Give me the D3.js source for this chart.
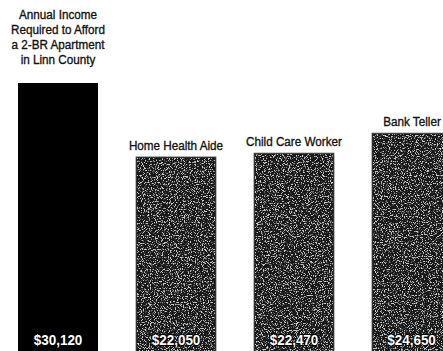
<!DOCTYPE html>
<html>
<head>
<meta charset="utf-8">
<script src="https://cdn.jsdelivr.net/npm/d3@7"></script>
<style>
  html, body { margin: 0; padding: 0; background: #fff; }
  svg { display: block; }
</style>
</head>
<body>
<svg id="chart" width="443" height="351"></svg>
<script>
// Annual income needed vs. wages of common occupations
const categories = ["Linn County 2-BR", "Home Health Aide", "Child Care Worker", "Bank Teller"];
const values = [30120, 22050, 22470, 24650];
const titleLines = ["Annual Income", "Required to Afford", "a 2-BR Apartment", "in Linn County"];
const valueLabels = ["$30,120", "$22,050", "$22,470", "$24,650"];

const W = 443, H = 351;
const svg = d3.select("#chart");
const narrow = 0.88;   // horizontal squeeze for the condensed lettering
const labelFont = "'Liberation Sans', Arial, sans-serif";

const x = d3.scaleBand()
  .domain(categories)
  .range([18, 452])
  .paddingInner(0.322)
  .paddingOuter(0);

const y = d3.scaleLinear()
  .domain([0, 30120])
  .range([359, 83]);

// Speckled grain used on the occupation bars
const defs = svg.append("defs");
const f = defs.append("filter").attr("id", "grain")
  .attr("x", 0).attr("y", 0).attr("width", 1).attr("height", 1)
  .attr("color-interpolation-filters", "sRGB");
f.append("feTurbulence")
  .attr("type", "fractalNoise").attr("baseFrequency", 0.85)
  .attr("numOctaves", 2).attr("seed", 7).attr("result", "n");
f.append("feColorMatrix").attr("in", "n").attr("type", "matrix")
  .attr("values", "0 0 0 0 0.8  0 0 0 0 0.8  0 0 0 0 0.8  8 0 0 0 -4.25")
  .attr("result", "dots");
f.append("feComposite").attr("in", "dots").attr("in2", "SourceGraphic").attr("operator", "in");

const g = svg.append("g");

// bars
g.selectAll("rect.bar")
  .data(categories)
  .join("rect")
  .attr("class", "bar")
  .attr("x", d => x(d))
  .attr("y", (d, i) => y(values[i]))
  .attr("width", x.bandwidth())
  .attr("height", (d, i) => y(0) - y(values[i]))
  .attr("fill", (d, i) => i === 0 ? "#000" : "#181818")
  .attr("stroke", (d, i) => i === 0 ? "none" : "#5a5a5a")
  .attr("stroke-width", 0.8);

// grain overlay on occupation bars
g.selectAll("rect.grain")
  .data(categories.slice(1))
  .join("rect")
  .attr("class", "grain")
  .attr("x", d => x(d) + 1)
  .attr("y", (d, i) => y(values[i + 1]) + 1)
  .attr("width", x.bandwidth() - 2)
  .attr("height", (d, i) => y(0) - y(values[i + 1]) - 1)
  .attr("fill", "#fff")
  .attr("filter", "url(#grain)");

// title block above the first bar
const cx0 = x(categories[0]) + x.bandwidth() / 2;
svg.append("g")
  .attr("transform", `translate(${cx0},0) scale(${narrow},1)`)
  .selectAll("text")
  .data(titleLines)
  .join("text")
  .attr("x", 0)
  .attr("y", (d, i) => 19.5 + i * 14.9)
  .attr("text-anchor", "middle")
  .attr("font-family", labelFont)
  .attr("font-size", 13.3)
  .attr("fill", "#111")
  .attr("stroke", "#111")
  .attr("stroke-width", 0.35)
  .text(d => d);

// occupation labels above their bars
g.selectAll("g.cat")
  .data(categories.slice(1))
  .join("g")
  .attr("class", "cat")
  .attr("transform", (d, i) =>
    `translate(${Math.min(x(d) + x.bandwidth() / 2, 412)},${y(values[i + 1]) - 7}) scale(${narrow},1)`)
  .append("text")
  .attr("text-anchor", "middle")
  .attr("font-family", labelFont)
  .attr("font-size", 13.3)
  .attr("fill", "#111")
  .attr("stroke", "#111")
  .attr("stroke-width", 0.35)
  .text(d => d);

// value labels near the bottom of each bar
g.selectAll("g.val")
  .data(categories)
  .join("g")
  .attr("class", "val")
  .attr("transform", d =>
    `translate(${Math.min(x(d) + x.bandwidth() / 2, 411.5)},344.5) scale(0.9,1)`)
  .append("text")
  .attr("text-anchor", "middle")
  .attr("font-family", labelFont)
  .attr("font-weight", "bold")
  .attr("font-size", 15)
  .attr("fill", "#fff")
  .attr("stroke", "#000")
  .attr("stroke-width", 2)
  .attr("paint-order", "stroke")
  .text((d, i) => valueLabels[i]);
</script>
</body>
</html>
